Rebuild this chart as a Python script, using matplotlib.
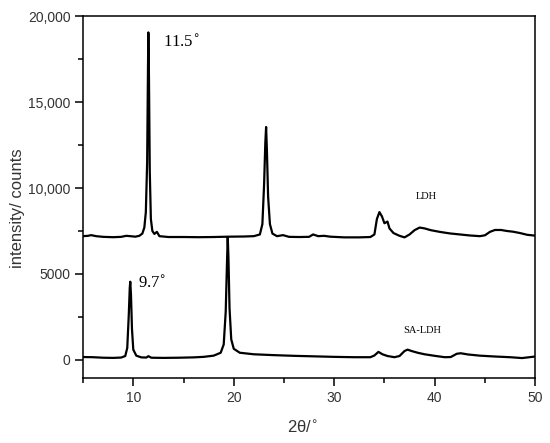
import numpy as np
import matplotlib
matplotlib.use("Agg")
import matplotlib.pyplot as plt
from matplotlib.ticker import FuncFormatter, MultipleLocator

# LDH pattern (2theta, counts)
ldh_x = [5.0, 5.5, 5.8, 6.3, 7.0, 8.0, 8.8, 9.3, 9.7, 10.2, 10.6, 10.9, 11.1, 11.25,
         11.38, 11.46, 11.5, 11.56, 11.64, 11.75, 11.9, 12.1, 12.35, 12.6, 13.5, 15.0,
         16.5, 18.0, 19.5, 21.0, 22.0, 22.6, 22.85, 23.02, 23.14, 23.22, 23.3, 23.42,
         23.6, 23.85, 24.3, 24.9, 25.5, 26.5, 27.5, 27.9, 28.4, 29.0, 29.6, 31.0, 32.5,
         33.6, 34.0, 34.25, 34.5, 34.75, 35.0, 35.3, 35.5, 35.9, 36.5, 37.0, 37.5, 38.0,
         38.5, 39.0, 39.6, 40.5, 41.5, 42.5, 43.5, 44.5, 45.0, 45.5, 46.0, 46.6, 47.2,
         47.8, 48.5, 49.2, 50.0]
ldh_y = [7200, 7220, 7260, 7200, 7160, 7140, 7160, 7220, 7200, 7170, 7220, 7350, 7700, 8600,
         11500, 16800, 19050, 16500, 11000, 8200, 7500, 7330, 7450, 7200, 7150, 7150,
         7140, 7150, 7170, 7180, 7200, 7300, 7900, 10200, 12600, 13550, 12200, 9500,
         7900, 7350, 7200, 7260, 7160, 7150, 7160, 7300, 7200, 7220, 7170, 7130, 7130,
         7150, 7300, 8200, 8600, 8350, 7950, 8050, 7650, 7380, 7220, 7130, 7300, 7550,
         7700, 7650, 7550, 7450, 7360, 7300, 7240, 7200, 7250, 7450, 7560, 7560, 7500,
         7460, 7380, 7280, 7230]

# SA-LDH pattern
sa_x = [5.0, 6.0, 7.0, 8.0, 8.8, 9.2, 9.4, 9.55, 9.65, 9.7, 9.77, 9.87, 10.0, 10.3,
        10.8, 11.3, 11.5, 11.8, 13.0, 14.5, 16.0, 17.0, 18.0, 18.7, 19.0, 19.2, 19.32,
        19.4, 19.47, 19.58, 19.75, 20.0, 20.6, 22.0, 24.0, 26.0, 28.0, 30.0, 32.0, 33.6,
        34.0, 34.4, 34.8, 35.3, 36.0, 36.5, 37.0, 37.3, 37.7, 38.3, 39.0, 40.0, 41.0,
        41.6, 42.2, 42.6, 43.3, 44.5, 46.0, 47.5, 48.7, 50.0]
sa_y = [170, 160, 130, 120, 140, 230, 700, 2600, 4200, 4550, 3800, 1800, 600, 250,
        150, 140, 220, 130, 120, 130, 150, 180, 250, 420, 900, 2800, 5500,
        7150, 6000, 3000, 1200, 650, 420, 330, 280, 240, 210, 180, 160, 160,
        260, 470, 330, 230, 160, 230, 520, 600, 520, 420, 330, 240, 160,
        170, 360, 390, 320, 250, 200, 160, 110, 200]

fig = plt.figure(figsize=(5.5, 4.43), dpi=100)
ax = fig.add_axes([0.151, 0.1467, 0.822, 0.817])

ax.plot(ldh_x, ldh_y, color="black", lw=1.6)
ax.plot(sa_x, sa_y, color="black", lw=1.6)

ax.set_xlim(5, 50)
ax.set_ylim(-1050, 20000)

ax.xaxis.set_major_locator(MultipleLocator(10))
ax.xaxis.set_minor_locator(MultipleLocator(5))
ax.yaxis.set_major_locator(MultipleLocator(5000))
ax.yaxis.set_minor_locator(MultipleLocator(2500))
ax.yaxis.set_major_formatter(FuncFormatter(lambda v, p: "{:,.0f}".format(v) if v >= 10000 else "{:.0f}".format(v)))

ax.tick_params(which="major", direction="out", length=6, width=1.1, pad=3, labelsize=10)
ax.tick_params(which="minor", direction="out", length=3.5, width=1.1)
ax.tick_params(top=False, right=False)
for lab in ax.get_xticklabels() + ax.get_yticklabels():
    lab.set_fontfamily("Liberation Sans")
    lab.set_color("#333333")
for s in ax.spines.values():
    s.set_linewidth(1.1)

ax.text(13.0, 18500, "11.5$^{\\circ}$", family="Liberation Serif", fontsize=12, va="center", ha="left")
ax.text(10.5, 4480, "9.7$^{\\circ}$", family="Liberation Serif", fontsize=12, va="center", ha="left")
ax.text(39.2, 9480, "LDH", family="Liberation Serif", fontsize=7.5, va="center", ha="center")
ax.text(38.8, 1690, "SA-LDH", family="Liberation Serif", fontsize=7.5, va="center", ha="center")

fig.text(0.031, 0.53, "intensity/ counts", rotation=90, family="Liberation Sans",
         fontsize=12, va="center", ha="center", color="#333333")
fig.text(0.55, 0.035, "2θ/$^{\\circ}$", family="Liberation Sans", fontsize=12,
         va="center", ha="center", color="#333333")

fig.savefig("out.png", dpi=100)
